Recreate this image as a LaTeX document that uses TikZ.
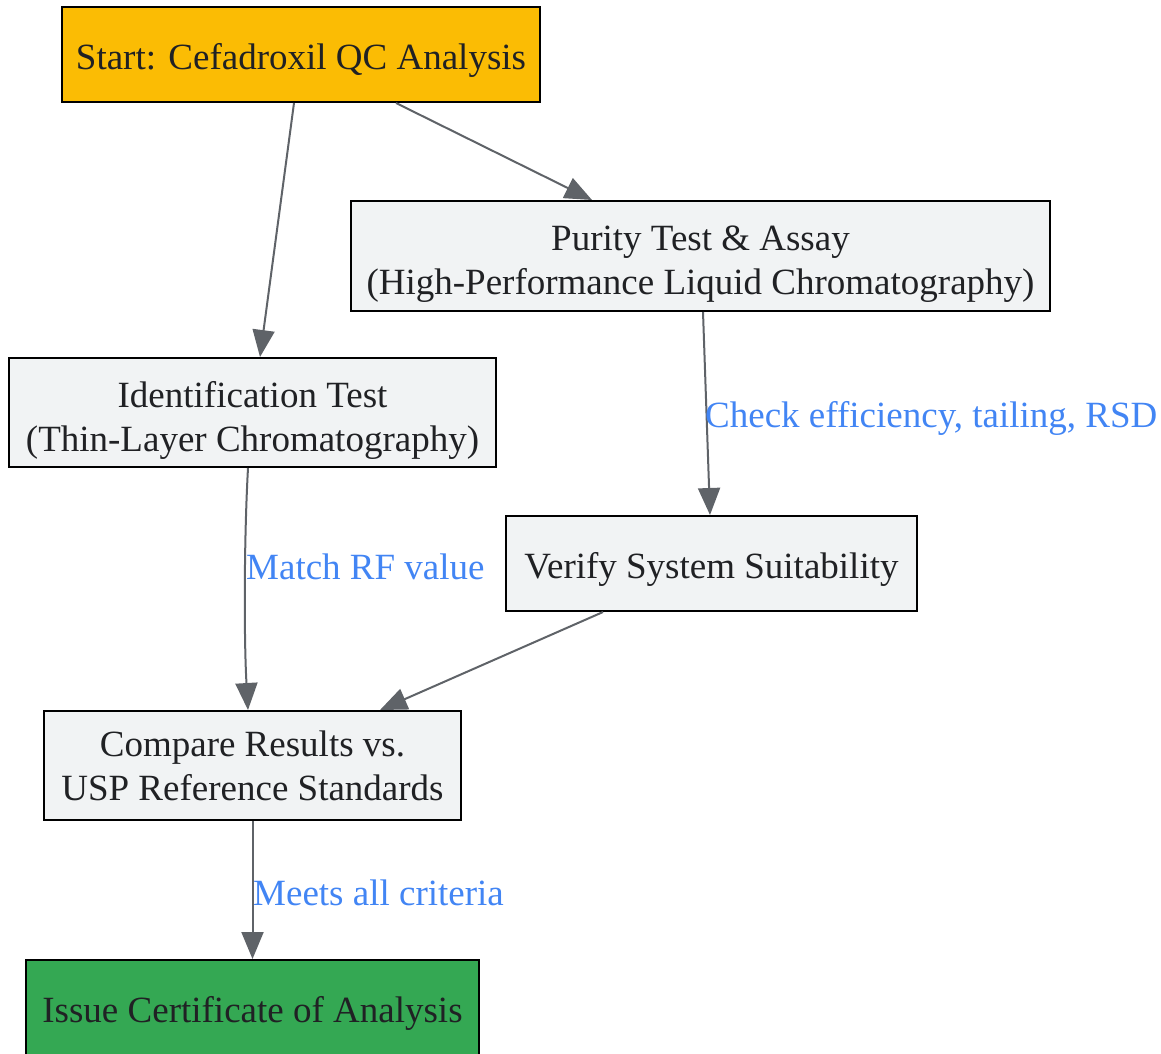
\documentclass[tikz,border=0pt]{standalone}
\usepackage{fontspec}
\setmainfont{Liberation Serif}
\usetikzlibrary{arrows.meta}
\definecolor{startc}{HTML}{FBBC04}
\definecolor{endc}{HTML}{34A853}
\definecolor{boxc}{HTML}{F1F3F4}
\definecolor{edgec}{HTML}{5F6368}
\definecolor{labc}{HTML}{4285F4}
\definecolor{txtc}{HTML}{202124}
\begin{document}
\begin{tikzpicture}[x=1pt,y=-1pt,
  box/.style={draw=black,line width=2pt,fill=boxc,inner sep=0pt,align=center,
    text=txtc,font=\fontsize{37}{44}\selectfont},
  oneline/.style={text height=37pt,text depth=8pt},
  twoline/.style={text height=85pt,text depth=8pt},
  conn/.style={draw=edgec,line width=2pt,-{Triangle[length=27pt,width=22pt]}},
  elabel/.style={text=labc,anchor=west,inner sep=0pt,font=\fontsize{37}{44}\selectfont}]
\useasboundingbox (0,0) rectangle (1161,1053);
\node[box,oneline,fill=startc,minimum width=478pt,minimum height=95pt] (start) at (301,54.5) {Start: Cefadroxil QC Analysis};
\node[box,twoline,minimum width=699pt,minimum height=110pt] (purity) at (700.5,256) {Purity Test \& Assay\\(High-Performance Liquid Chromatography)};
\node[box,twoline,minimum width=487pt,minimum height=109pt] (ident) at (252.5,412.5) {Identification Test\\(Thin-Layer Chromatography)};
\node[box,oneline,minimum width=411pt,minimum height=95pt] (verify) at (711.5,563.5) {Verify System Suitability};
\node[box,minimum width=417pt,minimum height=109pt] (compare) at (252.5,765.5) {Compare Results vs.\\USP Reference Standards};
\node[box,oneline,fill=endc,minimum width=453pt,minimum height=95pt] (issue) at (252.5,1007.5) {Issue Certificate of Analysis};
\path[conn] ([xshift=-7pt]start.south) -- ([xshift=7.5pt]ident.north);
\path[conn] ([xshift=95pt]start.south) -- ([xshift=-108.5pt]purity.north);
\path[conn] ([xshift=2.5pt]purity.south) -- ([xshift=-1.5pt]verify.north);
\path[conn] ([xshift=-4.5pt]ident.south) .. controls (244,540) and (244,640) .. ([xshift=-4.5pt]compare.north);
\path[conn] ([xshift=-108.5pt]verify.south) -- ([xshift=127.5pt]compare.north);
\path[conn] (compare.south) -- (issue.north);
\node[elabel] (l1) at (705,418) {Check efficiency, tailing, RSD};
\node[elabel] (l2) at (246,567) {Match RF value};
\node[elabel] (l3) at (253,893) {Meets all criteria};
\end{tikzpicture}
\end{document}
